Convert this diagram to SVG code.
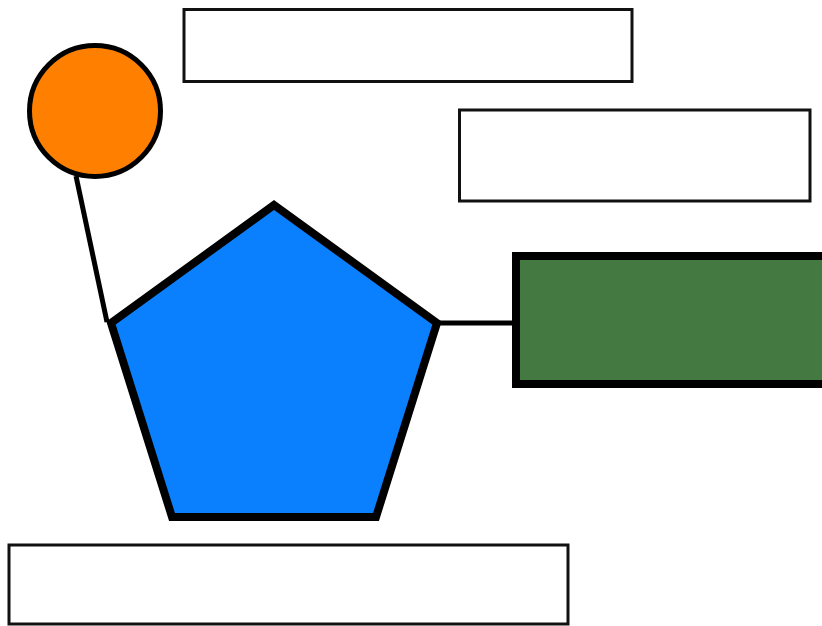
<svg xmlns="http://www.w3.org/2000/svg" width="822" height="626" viewBox="0 0 822 626">
<style>
.box{fill:#fff;stroke:#111;stroke-width:3}
.conn{stroke:#000;stroke-width:5;fill:none}
</style>
<rect width="822" height="626" fill="#fff"/>
<g id="connectors">
<line class="conn" x1="76" y1="176" x2="107" y2="322"/>
<line class="conn" x1="438" y1="323" x2="514" y2="323"/>
</g>
<g id="label-top"><rect class="box" x="184" y="9.5" width="448" height="72"/></g>
<g id="label-right"><rect class="box" x="459.5" y="110" width="350.5" height="91"/></g>
<g id="label-bottom"><rect class="box" x="9" y="545" width="559" height="79"/></g>
<g id="circle"><circle cx="95" cy="111" r="65.5" fill="#ff8000" stroke="#000" stroke-width="5"/></g>
<g id="pentagon"><polygon points="274,205 437,323 376,517 172,517 111,323" fill="#0b80ff" stroke="#000" stroke-width="8" stroke-linejoin="miter"/></g>
<g id="green-box"><rect x="516" y="256" width="312" height="128" fill="#447a42" stroke="#000" stroke-width="8"/></g>
</svg>
